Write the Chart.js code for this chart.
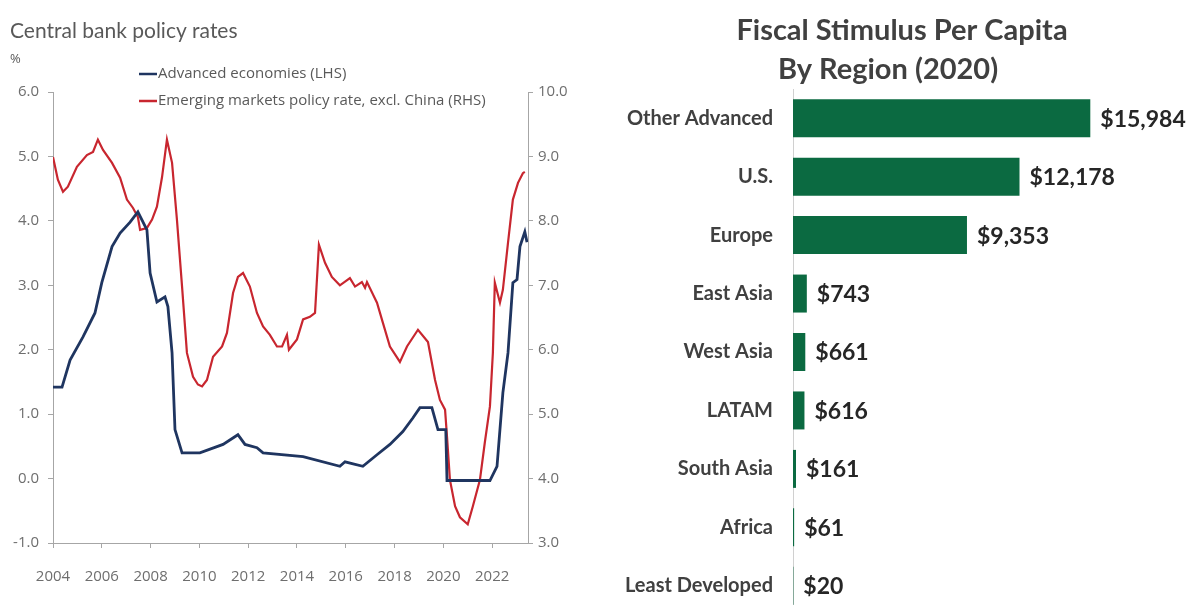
<!DOCTYPE html>
<html lang="en">
  <head>
    <meta charset="utf-8" />
    <title>Policy rates and fiscal stimulus</title>
    <style>
      html, body { margin: 0; padding: 0; background: #fff; overflow: hidden; }
      #rates { position: absolute; left: 0; top: 0; }
      #stimulus { position: absolute; left: 590px; top: 0; }
    </style>
  </head>
  <body>
    <canvas id="rates" width="580" height="605"></canvas>
    <canvas id="stimulus" width="599" height="639"></canvas>

    <script src="https://cdn.jsdelivr.net/npm/chart.js"></script>

    <script>
      // --- left chart: policy rates ---
      const advYears = [2004.0, 2004.37, 2004.7, 2005.23, 2005.72, 2006.0, 2006.42, 2006.75, 2007.16, 2007.48,
        2007.85, 2007.98, 2008.26, 2008.59, 2008.71, 2008.88, 2009.0, 2009.29, 2010.02, 2010.97,
        2011.58, 2011.87, 2012.36, 2012.61, 2014.25, 2015.76, 2015.97, 2016.7, 2017.28, 2017.81,
        2018.34, 2018.75, 2019.04, 2019.53, 2019.78, 2020.1, 2020.15, 2021.91, 2022.2, 2022.44,
        2022.65, 2022.85, 2023.02, 2023.14, 2023.34, 2023.43];
      const advRates = [1.42, 1.42, 1.84, 2.2, 2.57, 3.04, 3.6, 3.81, 3.98, 4.14,
        3.86, 3.19, 2.74, 2.82, 2.67, 1.95, 0.76, 0.4, 0.4, 0.53,
        0.68, 0.53, 0.48, 0.4, 0.34, 0.19, 0.26, 0.19, 0.37, 0.53,
        0.73, 0.94, 1.1, 1.1, 0.76, 0.76, -0.03, -0.03, 0.19, 1.33,
        1.95, 3.04, 3.09, 3.6, 3.83, 3.67];

      const emYears = [2004.0, 2004.2, 2004.41, 2004.61, 2004.98, 2005.39, 2005.64, 2005.84, 2006.05, 2006.42,
        2006.75, 2007.03, 2007.28, 2007.48, 2007.57, 2007.85, 2008.06, 2008.26, 2008.47, 2008.67,
        2008.88, 2009.08, 2009.29, 2009.49, 2009.74, 2009.94, 2010.11, 2010.31, 2010.56, 2010.93,
        2011.13, 2011.38, 2011.58, 2011.79, 2012.07, 2012.36, 2012.61, 2012.89, 2013.18, 2013.39,
        2013.59, 2013.67, 2014.0, 2014.25, 2014.53, 2014.74, 2014.9, 2015.15, 2015.43, 2015.76,
        2016.17, 2016.38, 2016.66, 2016.79, 2016.87, 2017.28, 2017.52, 2017.81, 2018.22, 2018.51,
        2018.96, 2019.37, 2019.66, 2019.86, 2020.07, 2020.15, 2020.27, 2020.48, 2020.68, 2021.0,
        2021.21, 2021.5, 2021.7, 2021.91, 2022.03, 2022.11, 2022.32, 2022.44, 2022.65, 2022.85,
        2023.06, 2023.26, 2023.34];
      const emRates = [8.99, 8.64, 8.45, 8.53, 8.84, 9.02, 9.07, 9.26, 9.1, 8.9,
        8.67, 8.33, 8.2, 8.06, 7.86, 7.89, 8.02, 8.22, 8.68, 9.26,
        8.9, 8.02, 6.98, 5.95, 5.58, 5.46, 5.43, 5.53, 5.89, 6.05,
        6.26, 6.88, 7.13, 7.19, 6.98, 6.57, 6.36, 6.23, 6.05, 6.05,
        6.23, 6.0, 6.16, 6.47, 6.51, 6.57, 7.63, 7.35, 7.13, 7.0,
        7.11, 6.98, 7.05, 6.96, 7.05, 6.73, 6.42, 6.05, 5.81, 6.05,
        6.31, 6.12, 5.53, 5.22, 5.07, 4.65, 3.98, 3.57, 3.4, 3.29,
        3.57, 3.98, 4.56, 5.12, 5.95, 7.04, 6.73, 6.93, 7.66, 8.33,
        8.59, 8.74, 8.76];

      const leftTicks = [-1, 0, 1, 2, 3, 4, 5, 6];
      const rightTicks = [3, 4, 5, 6, 7, 8, 9, 10];

      // --- right chart: fiscal stimulus per capita ---
      const regions = ["Other Advanced", "U.S.", "Europe", "East Asia", "West Asia", "LATAM", "South Asia", "Africa", "Least Developed"];
      const stimulus = [15984, 12178, 9353, 743, 661, 616, 161, 61, 20];

      const axisGray = "#a6a6a6";
      const textGray = "#595959";
      const tickGray = "#6e6e6e";
      const navy = "#1f3560";
      const red = "#c8262f";
      const green = "#0b6a41";

      const toPoints = (xs, ys) => xs.map((x, i) => ({ x, y: ys[i] }));

      const ratesDecor = {
        id: "ratesDecor",
        afterDraw(chart) {
          const c = chart.ctx;
          c.save();
          c.fillStyle = textGray;
          c.textBaseline = "middle";
          c.font = "21px Lato";
          c.fillText("Central bank policy rates", 10, 31);
          c.font = "13px 'Open Sans'";
          c.fillText("%", 10, 59);
          const items = [
            [navy, "Advanced economies (LHS)", 74],
            [red, "Emerging markets policy rate, excl. China (RHS)", 101],
          ];
          c.font = "15px 'Open Sans'";
          items.forEach(([col, text, y]) => {
            c.strokeStyle = col;
            c.lineWidth = 2.5;
            c.beginPath();
            c.moveTo(139, y);
            c.lineTo(157, y);
            c.stroke();
            c.fillStyle = textGray;
            c.fillText(text, 158, y);
          });
          c.restore();
        },
      };

      const tickFont = { family: "'Open Sans'", size: 15 };

      new Chart(document.getElementById("rates"), {
        type: "line",
        data: {
          datasets: [
            {
              label: "Advanced economies (LHS)",
              data: toPoints(advYears, advRates),
              borderColor: navy,
              borderWidth: 2.8,
              pointRadius: 0,
              tension: 0,
              yAxisID: "yL",
            },
            {
              label: "Emerging markets policy rate, excl. China (RHS)",
              data: toPoints(emYears, emRates),
              borderColor: red,
              borderWidth: 2.2,
              pointRadius: 0,
              tension: 0,
              yAxisID: "yR",
            },
          ],
        },
        options: {
          responsive: false,
          animation: false,
          layout: { padding: { top: 92, left: 0, right: 0, bottom: 0 } },
          plugins: { legend: { display: false }, tooltip: { enabled: false } },
          scales: {
            x: {
              type: "linear",
              min: 2004,
              max: 2023.47,
              border: { color: axisGray },
              grid: { drawOnChartArea: false, color: axisGray, tickLength: 5 },
              ticks: {
                stepSize: 2,
                includeBounds: false,
                color: tickGray,
                font: tickFont,
                padding: 20,
                maxRotation: 0,
                callback: (v) => (Number.isInteger(v) && v % 2 === 0 ? String(v) : ""),
              },
              afterFit: (s) => { s.height = 62; },
            },
            yL: {
              position: "left",
              min: leftTicks[0],
              max: leftTicks[leftTicks.length - 1],
              border: { color: axisGray },
              grid: { drawOnChartArea: false, color: axisGray, tickLength: 5 },
              afterBuildTicks: (s) => { s.ticks = leftTicks.map((v) => ({ value: v })); },
              ticks: { color: tickGray, font: tickFont, padding: 9, callback: (v) => v.toFixed(1) },
              afterFit: (s) => { s.width = 53; },
            },
            yR: {
              position: "right",
              min: rightTicks[0],
              max: rightTicks[rightTicks.length - 1],
              border: { color: axisGray },
              grid: { drawOnChartArea: false, color: axisGray, tickLength: 5 },
              afterBuildTicks: (s) => { s.ticks = rightTicks.map((v) => ({ value: v })); },
              ticks: { color: tickGray, font: tickFont, padding: 5, callback: (v) => v.toFixed(1) },
              afterFit: (s) => { s.width = 52; },
            },
          },
        },
        plugins: [ratesDecor],
      });

      const stimulusDecor = {
        id: "stimulusDecor",
        afterDraw(chart) {
          const c = chart.ctx;
          c.save();
          c.fillStyle = "#404040";
          c.textAlign = "center";
          c.textBaseline = "middle";
          c.font = "bold 29px Lato";
          c.fillText("Fiscal Stimulus Per Capita", 312, 31);
          c.fillText("By Region (2020)", 298, 70);
          c.textAlign = "left";
          c.fillStyle = "#262626";
          c.font = "bold 23px Lato";
          chart.getDatasetMeta(0).data.forEach((bar, i) => {
            c.fillText("$" + stimulus[i].toLocaleString("en-US"), bar.x + 10, bar.y + 1);
          });
          c.restore();
        },
      };

      new Chart(document.getElementById("stimulus"), {
        type: "bar",
        data: {
          labels: regions,
          datasets: [
            {
              label: "Fiscal stimulus per capita",
              data: stimulus,
              backgroundColor: green,
              categoryPercentage: 0.65,
              barPercentage: 1,
            },
          ],
        },
        options: {
          indexAxis: "y",
          responsive: false,
          animation: false,
          layout: { padding: { top: 89, right: 24, bottom: 0, left: 0 } },
          plugins: { legend: { display: false }, tooltip: { enabled: false } },
          scales: {
            x: { display: false, min: 0, max: 20000 },
            y: {
              border: { display: true, color: "#d0d0d0" },
              grid: { display: false },
              ticks: {
                color: "#404040",
                font: { family: "Lato", size: 20, weight: "bold" },
                padding: 12,
              },
              afterFit: (s) => { s.width = 203; },
            },
          },
        },
        plugins: [stimulusDecor],
      });
    </script>
  </body>
</html>
